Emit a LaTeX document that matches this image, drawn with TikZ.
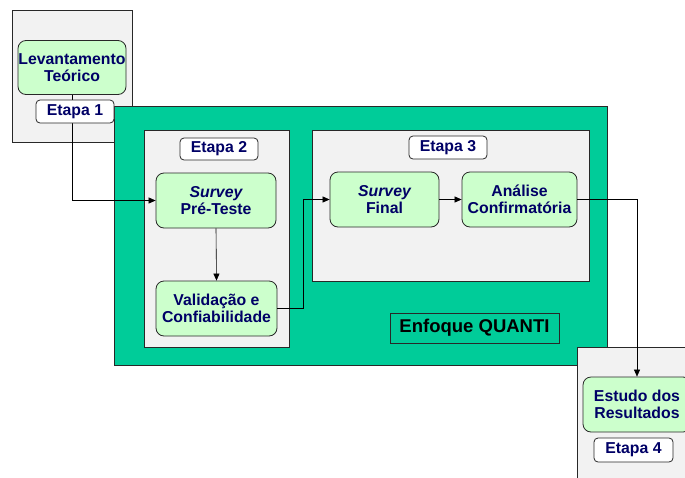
\documentclass[tikz,border=0pt]{standalone}
\usepackage{fontspec}
\setmainfont{Liberation Sans}
\usetikzlibrary{arrows.meta}
\definecolor{quanti}{RGB}{0,204,153}
\definecolor{procfill}{RGB}{204,255,204}
\definecolor{stagefill}{RGB}{242,242,242}
\definecolor{navy}{RGB}{0,0,102}
\definecolor{edge}{RGB}{40,40,40}
\tikzset{
  stagebox/.style={draw=edge, fill=stagefill, line width=0.8pt},
  procbox/.style={draw=edge, fill=procfill, rounded corners=8pt, line width=0.8pt,
    text=navy, font=\fontsize{15.8}{17.5}\selectfont\bfseries, align=center, inner sep=0pt},
  tagbox/.style={draw=edge, fill=white, rounded corners=4pt, line width=0.8pt,
    text=navy, font=\fontsize{15.8}{17.5}\selectfont\bfseries, align=center, inner sep=0pt},
  conn/.style={draw=black, line width=0.6pt},
  arr/.style={conn, -{Triangle[length=7pt,width=6pt]}}
}
\begin{document}
\begin{tikzpicture}[x=1pt,y=-1pt]
\useasboundingbox (0,0) rectangle (685,477);
\clip (0,0) rectangle (685,477);
\fill[white] (0,0) rectangle (685,477);
% stage boxes
\draw[stagebox] (12,10) rectangle (132,142);
\draw[fill=quanti, draw=edge, line width=0.8pt] (114,106) rectangle (607,365);
\draw[stagebox] (144,130) rectangle (289,347);
\draw[stagebox] (312,130) rectangle (589,281);
\draw[stagebox] (577,347) rectangle (700,490);
% process nodes
\node[procbox, minimum width=108pt, minimum height=54pt] (lev) at (72,67.5) {Levantamento\\Teórico};
\node[procbox, minimum width=120pt, minimum height=55pt] (pre) at (216,200.5) {\itshape Survey\\Pré-Teste};
\node[procbox, minimum width=121pt, minimum height=55pt] (val) at (216.5,308.5) {Validação e\\Confiabilidade};
\node[procbox, minimum width=109pt, minimum height=55pt] (fin) at (384.5,199.5) {\itshape Survey\\Final};
\node[procbox, minimum width=115pt, minimum height=55pt] (ana) at (519.5,199.5) {Análise\\Confirmatória};
\node[procbox, minimum width=108pt, minimum height=55pt] (est) at (637,404.5) {Estudo dos\\Resultados};
\node[draw=edge, line width=0.8pt, minimum width=169pt, minimum height=30pt, inner sep=0pt,
  font=\fontsize{18.5}{20}\selectfont\bfseries] (enf) at (474.5,328) {Enfoque QUANTI};
% connectors
\draw[arr] (lev.south) -- (lev.south |- pre.west) -- (pre.west);
\draw[arr] (pre.south) -- (val.north);
\coordinate (bend) at (303,308.5);
\draw[arr] (val.east) -- (bend) |- (fin.west);
\draw[arr] (fin.east) -- (ana.west);
\draw[arr] (ana.east) -| (est.north);
% stage tags
\node[tagbox, minimum width=78pt, minimum height=23pt] (t1) at (75,111.5) {Etapa 1};
\node[tagbox, minimum width=78pt, minimum height=22pt] (t2) at (219,149) {Etapa 2};
\node[tagbox, minimum width=78pt, minimum height=23pt] (t3) at (448,147.5) {Etapa 3};
\node[tagbox, minimum width=79pt, minimum height=24pt] (t4) at (633.5,450) {Etapa 4};
\end{tikzpicture}
\end{document}
